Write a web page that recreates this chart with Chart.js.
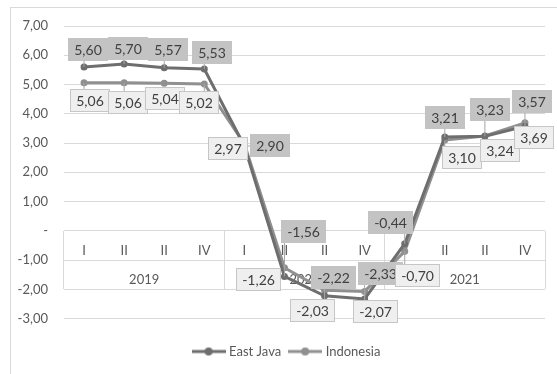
<!DOCTYPE html>
<html>
<head>
<meta charset="utf-8">
<script src="https://cdn.jsdelivr.net/npm/chart.js@4.4.1/dist/chart.umd.min.js"></script>
<style>
  html, body { margin: 0; padding: 0; background: #fff; }
  #wrap { position: relative; width: 557px; height: 374px; overflow: hidden; }
  #frame { position: absolute; left: 10px; top: 7px; width: 600px; height: 400px; border-left: 1px solid #d9d9d9; border-top: 1px solid #d9d9d9; }
  canvas { position: absolute; left: 0; top: 0; }
</style>
</head>
<body>
<div id="wrap">
  <div id="frame"></div>
  <canvas id="growthChart" width="557" height="374"></canvas>
</div>
<script>
const quarterLabels = ['I', 'II', 'II', 'IV', 'I', 'II', 'II', 'IV', 'I', 'II', 'II', 'IV'];
const yearLabels = ['2019', '2020', '2021'];
const eastJava = [5.60, 5.70, 5.57, 5.53, 2.90, -1.56, -2.22, -2.33, -0.44, 3.21, 3.23, 3.57];
const indonesia = [5.06, 5.06, 5.04, 5.02, 2.97, -1.26, -2.03, -2.07, -0.70, 3.10, 3.24, 3.69];
const yMin = -3;
const yMax = 7;

// where each value box sits relative to its point (px)
const eastJavaLabelOffsets = [[4, -17], [4, -16], [4, -18], [8, -17], [26, 0], [19, -45],
  [9, -18], [16, -25], [-14, -21], [0, -19], [5, -27], [7, -25]];
const indonesiaLabelOffsets = [[6, 18], [4, 20], [1, 15], [-5, 19], [-16, 5], [-26, 12],
  [-12, 20], [11, 20], [13, 24], [17, 17], [15, 14], [9, 15]];

const fontFamily = 'Lato';
const textColor = '#595959';
const gridColor = '#d9d9d9';

Chart.defaults.font.family = fontFamily;
Chart.defaults.font.size = 13;
Chart.defaults.color = textColor;

function fmt(v) {
    return v.toFixed(2).replace('.', ',');
}

// legend marker: short line with a dot in the middle
function legendIcon(color) {
    const c = document.createElement('canvas');
    c.width = 34;
    c.height = 10;
    const g = c.getContext('2d');
    g.strokeStyle = color;
    g.lineWidth = 3;
    g.beginPath();
    g.moveTo(0, 5);
    g.lineTo(34, 5);
    g.stroke();
    g.fillStyle = color;
    g.beginPath();
    g.arc(17, 5, 4, 0, Math.PI * 2);
    g.fill();
    return c;
}

const labelStyles = [
    { offsets: eastJavaLabelOffsets, fill: '#c3c3c3', border: null },
    { offsets: indonesiaLabelOffsets, fill: '#efefef', border: '#c6c6c6' }
];

// boxed value labels with leader lines, like the Excel callouts
const boxLabels = {
    id: 'boxLabels',
    afterDatasetsDraw(chart) {
        const ctx = chart.ctx;
        ctx.save();
        ctx.font = '14px ' + fontFamily;
        ctx.textAlign = 'center';
        ctx.textBaseline = 'middle';
        chart.data.datasets.forEach((ds, i) => {
            const meta = chart.getDatasetMeta(i);
            const st = labelStyles[i];
            meta.data.forEach((pt, j) => {
                const text = fmt(ds.data[j]);
                const w = Math.round(ctx.measureText(text).width) + 12;
                const h = 23;
                const cx = pt.x + st.offsets[j][0];
                const cy = pt.y + st.offsets[j][1];
                const l = Math.round(cx - w / 2);
                const t = Math.round(cy - h / 2);
                const nx = Math.max(l, Math.min(pt.x, l + w));
                const ny = Math.max(t, Math.min(pt.y, t + h));
                if (Math.hypot(pt.x - nx, pt.y - ny) > 4) {
                    ctx.strokeStyle = '#a6a6a6';
                    ctx.lineWidth = 1;
                    ctx.beginPath();
                    ctx.moveTo(nx, ny);
                    ctx.lineTo(pt.x, pt.y);
                    ctx.stroke();
                }
                ctx.fillStyle = st.fill;
                ctx.fillRect(l, t, w, h);
                if (st.border) {
                    ctx.strokeStyle = st.border;
                    ctx.lineWidth = 1;
                    ctx.strokeRect(l + 0.5, t + 0.5, w - 1, h - 1);
                }
                ctx.fillStyle = '#404040';
                ctx.fillText(text, l + w / 2, t + h / 2 + 1);
            });
        });
        ctx.restore();
    }
};

// Excel leaves the legend a little right of centre
const legendShift = {
    id: 'legendShift',
    afterLayout(chart) {
        chart.legend.left += 10;
        chart.legend.right += 10;
    }
};

const seriesColors = ['#6e6e6e', '#909090'];
const icons = seriesColors.map(legendIcon);

new Chart(document.getElementById('growthChart'), {
    type: 'line',
    data: {
        labels: quarterLabels,
        datasets: [{
            label: 'East Java',
            data: eastJava,
            borderColor: seriesColors[0],
            backgroundColor: seriesColors[0],
            borderWidth: 3,
            pointRadius: 3.5,
            pointBorderWidth: 0,
            tension: 0
        }, {
            label: 'Indonesia',
            data: indonesia,
            borderColor: seriesColors[1],
            backgroundColor: seriesColors[1],
            borderWidth: 3,
            pointRadius: 3.5,
            pointBorderWidth: 0,
            tension: 0
        }]
    },
    options: {
        responsive: false,
        animation: false,
        layout: {
            padding: { left: 10, right: 12, top: 26, bottom: 6 }
        },
        plugins: {
            tooltip: { enabled: false },
            legend: {
                position: 'bottom',
                title: {
                    display: true,
                    text: '',
                    font: { size: 12 },
                    padding: { top: 2, bottom: 0 }
                },
                labels: {
                    usePointStyle: true,
                    pointStyleWidth: 28,
                    boxHeight: 10,
                    padding: 10,
                    color: textColor,
                    generateLabels: chart => chart.data.datasets.map((ds, i) => ({
                        text: ds.label,
                        pointStyle: icons[i],
                        fillStyle: ds.borderColor,
                        strokeStyle: ds.borderColor,
                        lineWidth: 0,
                        hidden: false,
                        datasetIndex: i,
                        fontColor: textColor
                    }))
                }
            }
        },
        scales: {
            y: {
                min: yMin,
                max: yMax,
                ticks: {
                    stepSize: 1,
                    padding: 16,
                    color: textColor,
                    callback: v => v === 0 ? '-' : fmt(v)
                },
                grid: { color: gridColor, drawTicks: false },
                border: { display: false },
                afterFit: s => { s.width = 54; }
            },
            x: {
                type: 'category',
                axis: 'x',
                position: { y: 0 },
                offset: true,
                grid: { display: false, drawTicks: false },
                border: { display: false },
                ticks: { padding: 12, maxRotation: 0, autoSkip: false, color: textColor },
                afterFit: s => { s.height = 0; }
            },
            x2: {
                type: 'category',
                axis: 'x',
                labels: yearLabels,
                position: { y: 0 },
                offset: true,
                grid: {
                    offset: true,
                    drawOnChartArea: false,
                    drawTicks: true,
                    tickLength: 58,
                    color: gridColor
                },
                border: { display: false },
                ticks: { padding: -17, maxRotation: 0, autoSkip: false, color: textColor },
                afterFit: s => { s.height = 0; }
            }
        }
    },
    plugins: [boxLabels, legendShift]
});
</script>
</body>
</html>
